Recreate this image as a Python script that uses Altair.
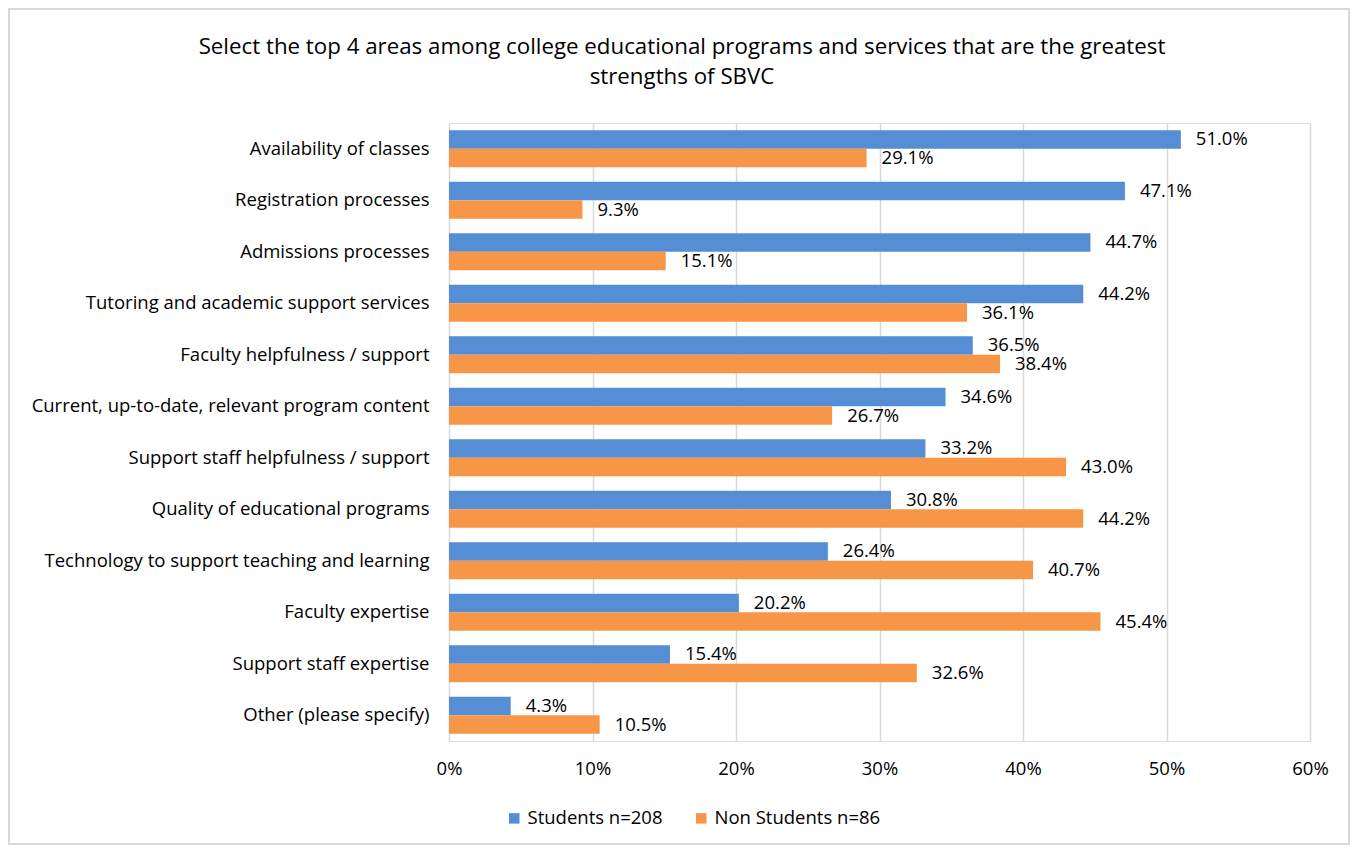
import altair as alt
import pandas as pd

categories = [
    "Availability of classes",
    "Registration processes",
    "Admissions processes",
    "Tutoring and academic support services",
    "Faculty helpfulness / support",
    "Current, up-to-date, relevant program content",
    "Support staff helpfulness / support",
    "Quality of educational programs",
    "Technology to support teaching and learning",
    "Faculty expertise",
    "Support staff expertise",
    "Other (please specify)",
]
students = [51.0, 47.1, 44.7, 44.2, 36.5, 34.6, 33.2, 30.8, 26.4, 20.2, 15.4, 4.3]
non_students = [29.1, 9.3, 15.1, 36.1, 38.4, 26.7, 43.0, 44.2, 40.7, 45.4, 32.6, 10.5]
series = ["Students n=208", "Non Students n=86"]
colors = ["#558ED5", "#F79646"]
x_ticks = [0, 10, 20, 30, 40, 50, 60]

rows = []
for c, s, n in zip(categories, students, non_students):
    rows.append({"category": c, "series": series[0], "value": s})
    rows.append({"category": c, "series": series[1], "value": n})
df = pd.DataFrame(rows)
df["label"] = df["value"].map(lambda v: f"{v:.1f}%")

FONT = "Open Sans"
FS = 18.5

y_enc = alt.Y("category:N", sort=categories, title=None,
              scale=alt.Scale(paddingInner=0.28, paddingOuter=0.14),
              axis=alt.Axis(ticks=False, domain=False, labelFontSize=FS,
                            labelPadding=20, labelColor="#000000",
                            labelFont=FONT, labelLimit=500))
yoff = alt.YOffset("series:N", sort=series)
x_enc = alt.X("value:Q", title=None,
              scale=alt.Scale(domain=[0, 60], nice=False),
              axis=alt.Axis(values=x_ticks, labelExpr="datum.value + '%'",
                            grid=True, gridColor="#D9D9D9", gridWidth=1.5,
                            domain=False, ticks=False, labelPadding=18,
                            labelFlush=False,
                            labelFontSize=FS, labelColor="#000000",
                            labelFont=FONT))

base = alt.Chart(df)

bars = base.mark_bar().encode(
    y=y_enc,
    yOffset=yoff,
    x=x_enc,
    color=alt.Color("series:N", sort=series,
                    scale=alt.Scale(domain=series, range=colors),
                    legend=alt.Legend(title=None, orient="none",
                                      legendX=56, legendY=686,
                                      direction="horizontal",
                                      symbolType="square", symbolSize=110,
                                      symbolStrokeWidth=0,
                                      labelFontSize=FS, labelFont=FONT,
                                      labelColor="#000000", labelLimit=400,
                                      columnPadding=29, labelOffset=4)),
)

labels = base.mark_text(align="left", baseline="middle", dx=15,
                        fontSize=FS, font=FONT, color="#000000").encode(
    y=alt.Y("category:N", sort=categories),
    yOffset=yoff,
    x="value:Q",
    text="label:N",
)

border = alt.Chart(df).mark_rect(fill=None, stroke="#D9D9D9", strokeWidth=1.5).encode(
    x=alt.value(-440), x2=alt.value(900),
    y=alt.value(-114), y2=alt.value(721),
)

chart = alt.layer(border, bars, labels).properties(
    width=861, height=618,
    autosize=alt.AutoSizeParams(type="none"),
    padding={"left": 441, "top": 115, "right": 40, "bottom": 104},
    title=alt.TitleParams(
        ["Select the top 4 areas among college educational programs and services that are the greatest",
         "strengths of SBVC"],
        fontSize=22.3, font=FONT, fontWeight="normal", color="#000000",
        anchor="middle", frame="bounds", offset=0, dy=80, dx=3, lineHeight=30),
).configure_view(stroke=None).configure(background="white")

chart.save("out.html", embed_options={"renderer": "svg", "actions": False})
